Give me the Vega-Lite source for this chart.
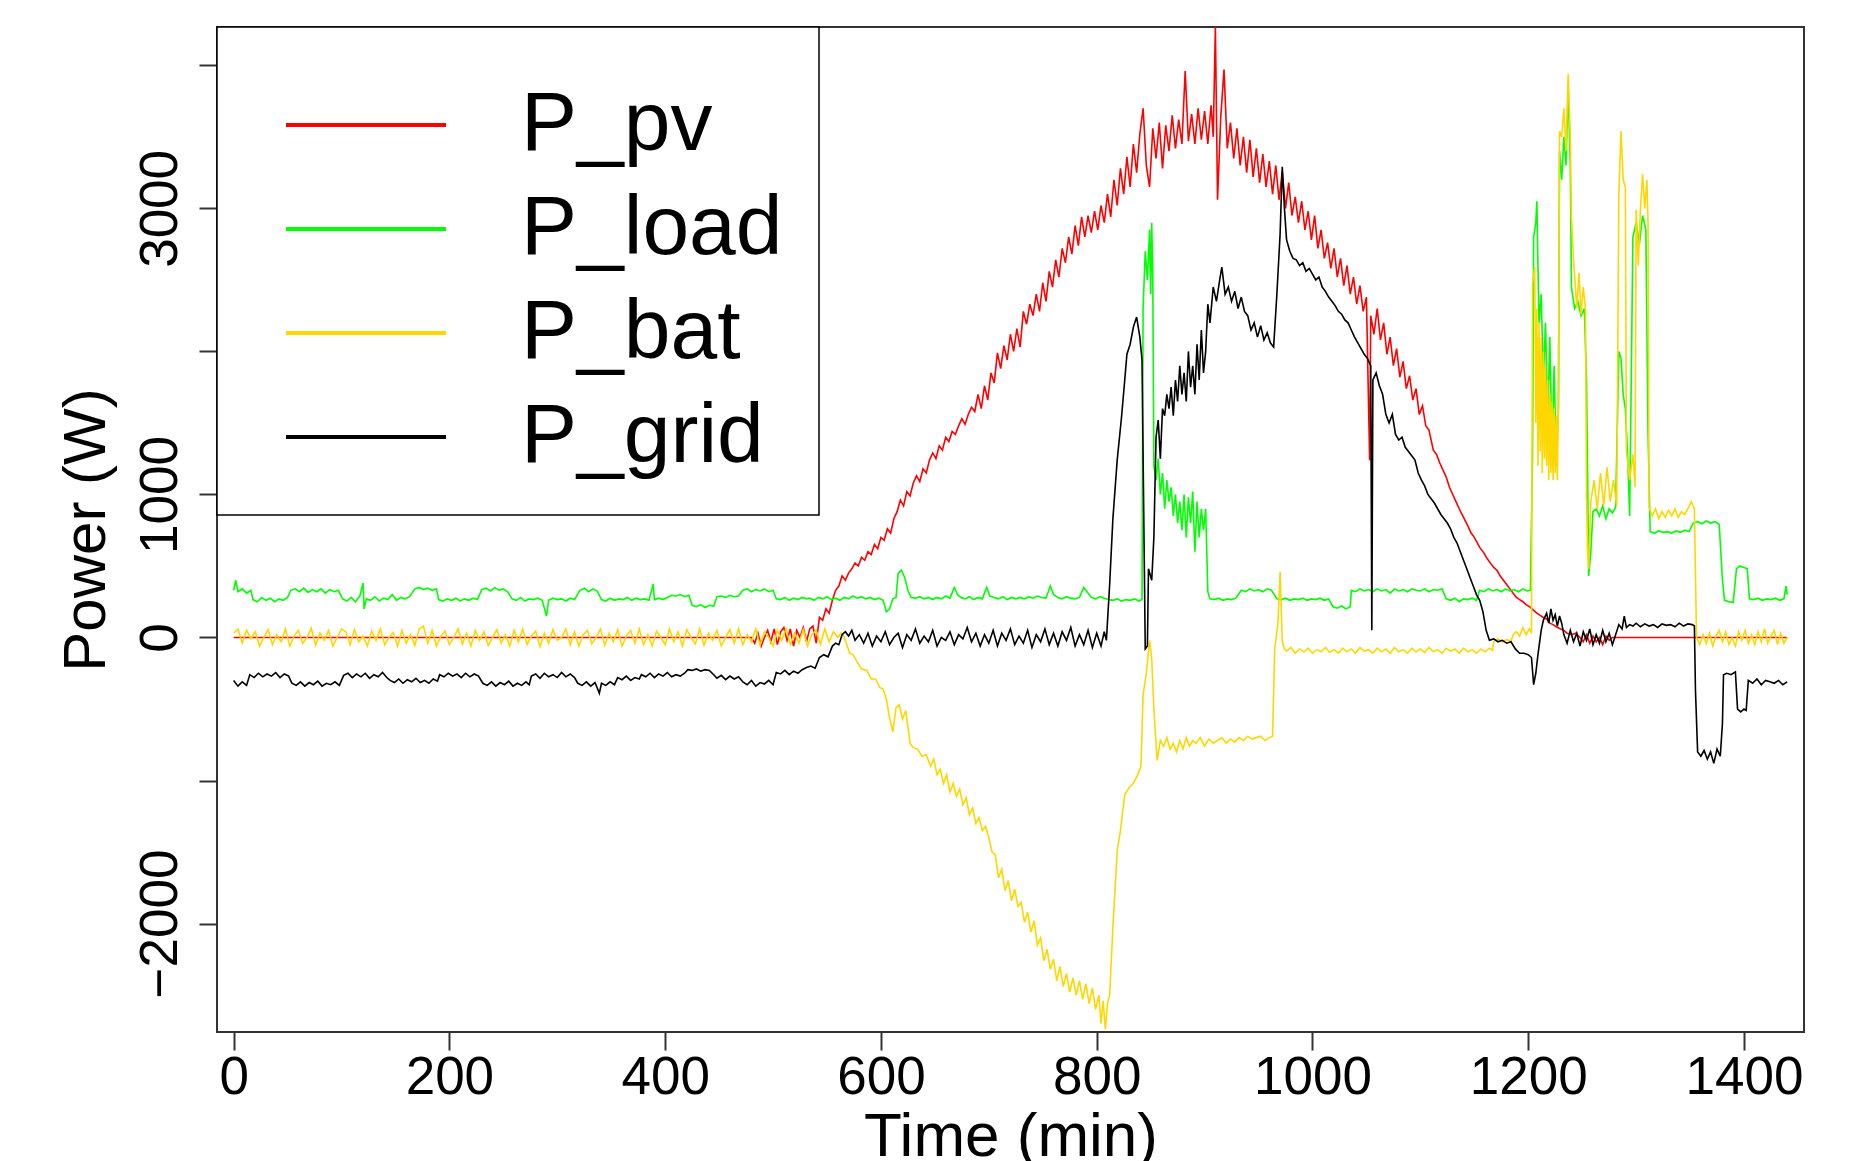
{
"$schema": "https://vega.github.io/schema/vega-lite/v6.json",
"width": 1587, "height": 1005,
"autosize": {"type": "none"},
"padding": {"left": 217, "top": 27, "right": 47, "bottom": 129},
"background": "white",
"config": {
  "view": {"stroke": "#333333", "strokeWidth": 2},
  "font": "Liberation Sans",
  "axis": {"domain": false, "grid": false, "tickColor": "#333333", "tickWidth": 2, "tickSize": 18, "labelColor": "#000000", "titleColor": "#000000", "labelFont": "Liberation Sans", "titleFont": "Liberation Sans", "titleFontWeight": "normal", "labelFlush": false}
},
"datasets": {
"pv": [{"t":0,"v":0},{"t":480,"v":0},{"t":483,"v":-40},{"t":486,"v":30},{"t":489,"v":-60},{"t":492,"v":0},{"t":495,"v":50},{"t":498,"v":-30},{"t":501,"v":60},{"t":504,"v":-50},{"t":507,"v":40},{"t":510,"v":70},{"t":513,"v":-20},{"t":516,"v":60},{"t":519,"v":-60},{"t":522,"v":50},{"t":525,"v":0},{"t":528,"v":70},{"t":531,"v":-30},{"t":534,"v":60},{"t":537,"v":80},{"t":540,"v":-40},{"t":543,"v":140},{"t":546,"v":120},{"t":549,"v":200},{"t":552,"v":170},{"t":555,"v":260},{"t":558,"v":330},{"t":561,"v":360},{"t":564,"v":430},{"t":567,"v":400},{"t":570,"v":450},{"t":573,"v":480},{"t":576,"v":520},{"t":579,"v":500},{"t":582,"v":560},{"t":585,"v":540},{"t":588,"v":600},{"t":591,"v":580},{"t":594,"v":650},{"t":597,"v":620},{"t":600,"v":700},{"t":603,"v":680},{"t":606,"v":760},{"t":609,"v":730},{"t":612,"v":830},{"t":615,"v":880},{"t":618,"v":960},{"t":621,"v":920},{"t":624,"v":1020},{"t":627,"v":990},{"t":630,"v":1080},{"t":633,"v":1130},{"t":636,"v":1090},{"t":639,"v":1180},{"t":642,"v":1150},{"t":645,"v":1240},{"t":648,"v":1290},{"t":651,"v":1250},{"t":654,"v":1340},{"t":657,"v":1310},{"t":660,"v":1400},{"t":663,"v":1370},{"t":666,"v":1440},{"t":669,"v":1420},{"t":672,"v":1480},{"t":675,"v":1530},{"t":678,"v":1490},{"t":681,"v":1560},{"t":684,"v":1610},{"t":687,"v":1580},{"t":690,"v":1700},{"t":693,"v":1600},{"t":696,"v":1760},{"t":699,"v":1660},{"t":702,"v":1850},{"t":705,"v":1780},{"t":708,"v":1990},{"t":711,"v":1880},{"t":714,"v":2040},{"t":717,"v":1940},{"t":720,"v":2120},{"t":723,"v":2000},{"t":726,"v":2160},{"t":729,"v":2030},{"t":732,"v":2280},{"t":735,"v":2190},{"t":738,"v":2330},{"t":741,"v":2250},{"t":744,"v":2400},{"t":747,"v":2280},{"t":750,"v":2480},{"t":753,"v":2350},{"t":756,"v":2560},{"t":759,"v":2450},{"t":762,"v":2640},{"t":765,"v":2520},{"t":768,"v":2720},{"t":771,"v":2620},{"t":774,"v":2800},{"t":777,"v":2680},{"t":780,"v":2880},{"t":783,"v":2740},{"t":786,"v":2940},{"t":789,"v":2800},{"t":792,"v":2950},{"t":795,"v":2830},{"t":798,"v":2980},{"t":801,"v":2850},{"t":804,"v":3020},{"t":807,"v":2900},{"t":810,"v":3100},{"t":813,"v":2940},{"t":816,"v":3200},{"t":819,"v":3020},{"t":822,"v":3280},{"t":825,"v":3100},{"t":828,"v":3360},{"t":831,"v":3150},{"t":834,"v":3450},{"t":837,"v":3250},{"t":840,"v":3520},{"t":843,"v":3700},{"t":846,"v":3300},{"t":849,"v":3150},{"t":852,"v":3560},{"t":855,"v":3350},{"t":858,"v":3600},{"t":861,"v":3280},{"t":864,"v":3580},{"t":867,"v":3400},{"t":870,"v":3650},{"t":873,"v":3420},{"t":876,"v":3620},{"t":879,"v":3450},{"t":882,"v":3960},{"t":885,"v":3470},{"t":888,"v":3660},{"t":891,"v":3450},{"t":894,"v":3700},{"t":897,"v":3480},{"t":900,"v":3680},{"t":903,"v":3450},{"t":906,"v":3720},{"t":908,"v":3500},{"t":910,"v":4270},{"t":912,"v":3060},{"t":915,"v":3640},{"t":918,"v":3970},{"t":921,"v":3420},{"t":924,"v":3600},{"t":927,"v":3350},{"t":930,"v":3560},{"t":933,"v":3300},{"t":936,"v":3500},{"t":939,"v":3250},{"t":942,"v":3480},{"t":945,"v":3220},{"t":948,"v":3420},{"t":951,"v":3180},{"t":954,"v":3380},{"t":957,"v":3150},{"t":960,"v":3330},{"t":963,"v":3100},{"t":966,"v":3300},{"t":969,"v":3060},{"t":972,"v":3260},{"t":975,"v":3000},{"t":978,"v":3180},{"t":981,"v":2950},{"t":984,"v":3080},{"t":987,"v":2900},{"t":990,"v":3050},{"t":993,"v":2850},{"t":996,"v":2980},{"t":999,"v":2780},{"t":1002,"v":2950},{"t":1005,"v":2720},{"t":1008,"v":2850},{"t":1011,"v":2650},{"t":1014,"v":2760},{"t":1017,"v":2580},{"t":1020,"v":2720},{"t":1023,"v":2520},{"t":1026,"v":2650},{"t":1029,"v":2460},{"t":1032,"v":2600},{"t":1035,"v":2400},{"t":1038,"v":2520},{"t":1041,"v":2330},{"t":1044,"v":2460},{"t":1047,"v":2280},{"t":1050,"v":2380},{"t":1053,"v":1240},{"t":1054,"v":2250},{"t":1057,"v":2120},{"t":1060,"v":2300},{"t":1063,"v":2080},{"t":1066,"v":2200},{"t":1069,"v":1980},{"t":1072,"v":2100},{"t":1075,"v":1900},{"t":1078,"v":2020},{"t":1081,"v":1820},{"t":1084,"v":1930},{"t":1087,"v":1740},{"t":1090,"v":1830},{"t":1093,"v":1660},{"t":1096,"v":1740},{"t":1099,"v":1560},{"t":1102,"v":1620},{"t":1105,"v":1480},{"t":1108,"v":1450},{"t":1112,"v":1310},{"t":1115,"v":1280},{"t":1118,"v":1220},{"t":1121,"v":1170},{"t":1124,"v":1120},{"t":1127,"v":1050},{"t":1130,"v":1000},{"t":1133,"v":950},{"t":1136,"v":900},{"t":1140,"v":840},{"t":1144,"v":780},{"t":1147,"v":730},{"t":1150,"v":700},{"t":1155,"v":630},{"t":1159,"v":590},{"t":1162,"v":550},{"t":1165,"v":520},{"t":1168,"v":490},{"t":1171,"v":470},{"t":1174,"v":430},{"t":1177,"v":400},{"t":1180,"v":370},{"t":1183,"v":340},{"t":1186,"v":310},{"t":1189,"v":280},{"t":1192,"v":265},{"t":1195,"v":250},{"t":1198,"v":230},{"t":1202,"v":210},{"t":1205,"v":190},{"t":1208,"v":170},{"t":1211,"v":155},{"t":1214,"v":140},{"t":1217,"v":130},{"t":1220,"v":100},{"t":1223,"v":90},{"t":1226,"v":75},{"t":1230,"v":60},{"t":1233,"v":50},{"t":1236,"v":30},{"t":1240,"v":20},{"t":1244,"v":30},{"t":1248,"v":0},{"t":1251,"v":-30},{"t":1254,"v":20},{"t":1257,"v":-40},{"t":1260,"v":10},{"t":1263,"v":-30},{"t":1266,"v":0},{"t":1269,"v":-50},{"t":1272,"v":10},{"t":1275,"v":-20},{"t":1278,"v":0},{"t":1440,"v":0}],
"load": [{"t":0,"v":330},{"t":2,"v":400},{"t":4,"v":320},{"t":8,"v":340},{"t":12,"v":310},{"t":16,"v":330},{"t":18,"v":265},{"t":22,"v":250},{"t":26,"v":280},{"t":30,"v":260},{"t":34,"v":275},{"t":38,"v":250},{"t":42,"v":270},{"t":46,"v":260},{"t":50,"v":280},{"t":53,"v":330},{"t":57,"v":340},{"t":61,"v":320},{"t":65,"v":345},{"t":69,"v":315},{"t":73,"v":335},{"t":77,"v":320},{"t":81,"v":340},{"t":85,"v":310},{"t":89,"v":335},{"t":93,"v":320},{"t":97,"v":330},{"t":101,"v":270},{"t":105,"v":255},{"t":109,"v":280},{"t":113,"v":250},{"t":117,"v":290},{"t":120,"v":380},{"t":121,"v":200},{"t":123,"v":270},{"t":127,"v":260},{"t":131,"v":285},{"t":135,"v":255},{"t":139,"v":275},{"t":143,"v":265},{"t":147,"v":300},{"t":151,"v":260},{"t":155,"v":280},{"t":159,"v":270},{"t":163,"v":285},{"t":168,"v":340},{"t":172,"v":350},{"t":176,"v":335},{"t":180,"v":345},{"t":184,"v":330},{"t":188,"v":340},{"t":190,"v":265},{"t":194,"v":255},{"t":198,"v":270},{"t":202,"v":260},{"t":206,"v":275},{"t":210,"v":255},{"t":214,"v":270},{"t":218,"v":260},{"t":222,"v":275},{"t":226,"v":265},{"t":230,"v":335},{"t":234,"v":345},{"t":238,"v":325},{"t":242,"v":350},{"t":246,"v":330},{"t":250,"v":340},{"t":254,"v":320},{"t":258,"v":270},{"t":262,"v":260},{"t":266,"v":280},{"t":270,"v":255},{"t":274,"v":270},{"t":278,"v":265},{"t":282,"v":275},{"t":286,"v":260},{"t":290,"v":150},{"t":292,"v":260},{"t":296,"v":275},{"t":300,"v":265},{"t":304,"v":270},{"t":308,"v":255},{"t":312,"v":275},{"t":316,"v":265},{"t":321,"v":330},{"t":325,"v":345},{"t":329,"v":320},{"t":333,"v":340},{"t":337,"v":325},{"t":341,"v":265},{"t":345,"v":255},{"t":349,"v":275},{"t":353,"v":260},{"t":357,"v":270},{"t":361,"v":265},{"t":365,"v":280},{"t":369,"v":260},{"t":373,"v":275},{"t":377,"v":265},{"t":381,"v":270},{"t":385,"v":260},{"t":389,"v":375},{"t":390,"v":265},{"t":394,"v":275},{"t":398,"v":265},{"t":402,"v":280},{"t":406,"v":295},{"t":410,"v":290},{"t":414,"v":300},{"t":418,"v":285},{"t":422,"v":295},{"t":425,"v":225},{"t":429,"v":215},{"t":433,"v":230},{"t":437,"v":210},{"t":441,"v":225},{"t":445,"v":220},{"t":448,"v":285},{"t":452,"v":290},{"t":456,"v":280},{"t":460,"v":295},{"t":464,"v":285},{"t":468,"v":290},{"t":472,"v":330},{"t":476,"v":340},{"t":480,"v":320},{"t":484,"v":335},{"t":488,"v":325},{"t":492,"v":340},{"t":496,"v":320},{"t":500,"v":330},{"t":503,"v":270},{"t":507,"v":265},{"t":511,"v":280},{"t":515,"v":260},{"t":519,"v":275},{"t":523,"v":265},{"t":527,"v":280},{"t":531,"v":270},{"t":534,"v":275},{"t":538,"v":260},{"t":542,"v":280},{"t":546,"v":270},{"t":550,"v":285},{"t":554,"v":265},{"t":558,"v":275},{"t":562,"v":260},{"t":566,"v":280},{"t":570,"v":270},{"t":574,"v":290},{"t":578,"v":275},{"t":582,"v":285},{"t":586,"v":270},{"t":590,"v":280},{"t":594,"v":265},{"t":598,"v":275},{"t":602,"v":260},{"t":605,"v":180},{"t":608,"v":200},{"t":611,"v":270},{"t":614,"v":280},{"t":616,"v":450},{"t":619,"v":470},{"t":622,"v":420},{"t":625,"v":330},{"t":628,"v":280},{"t":632,"v":275},{"t":636,"v":285},{"t":640,"v":270},{"t":644,"v":280},{"t":648,"v":265},{"t":652,"v":280},{"t":656,"v":270},{"t":660,"v":290},{"t":664,"v":275},{"t":668,"v":350},{"t":671,"v":300},{"t":674,"v":280},{"t":678,"v":270},{"t":682,"v":285},{"t":686,"v":265},{"t":690,"v":280},{"t":694,"v":270},{"t":698,"v":350},{"t":701,"v":290},{"t":705,"v":280},{"t":709,"v":270},{"t":713,"v":285},{"t":717,"v":265},{"t":721,"v":280},{"t":725,"v":270},{"t":729,"v":280},{"t":733,"v":270},{"t":737,"v":285},{"t":741,"v":275},{"t":745,"v":290},{"t":749,"v":280},{"t":753,"v":275},{"t":757,"v":360},{"t":760,"v":300},{"t":764,"v":280},{"t":768,"v":270},{"t":772,"v":285},{"t":776,"v":275},{"t":780,"v":270},{"t":784,"v":280},{"t":788,"v":350},{"t":791,"v":320},{"t":795,"v":280},{"t":799,"v":270},{"t":803,"v":285},{"t":807,"v":275},{"t":811,"v":265},{"t":815,"v":260},{"t":819,"v":270},{"t":823,"v":255},{"t":827,"v":265},{"t":831,"v":260},{"t":835,"v":270},{"t":839,"v":255},{"t":842,"v":265},{"t":843,"v":2300},{"t":845,"v":2700},{"t":847,"v":2500},{"t":849,"v":2850},{"t":850,"v":2400},{"t":851,"v":2900},{"t":852,"v":2500},{"t":853,"v":1200},{"t":855,"v":1100},{"t":857,"v":1250},{"t":859,"v":1000},{"t":861,"v":1150},{"t":863,"v":900},{"t":865,"v":1100},{"t":867,"v":950},{"t":869,"v":1050},{"t":871,"v":850},{"t":873,"v":1000},{"t":875,"v":800},{"t":877,"v":950},{"t":879,"v":750},{"t":881,"v":1000},{"t":883,"v":700},{"t":885,"v":980},{"t":887,"v":800},{"t":889,"v":1020},{"t":891,"v":600},{"t":893,"v":950},{"t":895,"v":700},{"t":897,"v":900},{"t":899,"v":750},{"t":901,"v":900},{"t":903,"v":320},{"t":905,"v":270},{"t":909,"v":265},{"t":913,"v":275},{"t":917,"v":260},{"t":921,"v":270},{"t":925,"v":265},{"t":929,"v":275},{"t":934,"v":330},{"t":938,"v":320},{"t":942,"v":340},{"t":946,"v":325},{"t":950,"v":335},{"t":954,"v":320},{"t":958,"v":340},{"t":962,"v":330},{"t":967,"v":270},{"t":971,"v":265},{"t":975,"v":275},{"t":979,"v":260},{"t":983,"v":270},{"t":987,"v":265},{"t":991,"v":275},{"t":995,"v":260},{"t":999,"v":270},{"t":1003,"v":265},{"t":1007,"v":275},{"t":1011,"v":260},{"t":1015,"v":270},{"t":1019,"v":215},{"t":1023,"v":205},{"t":1027,"v":220},{"t":1031,"v":200},{"t":1035,"v":215},{"t":1036,"v":330},{"t":1040,"v":320},{"t":1044,"v":340},{"t":1048,"v":325},{"t":1052,"v":335},{"t":1056,"v":320},{"t":1060,"v":340},{"t":1064,"v":325},{"t":1068,"v":335},{"t":1072,"v":310},{"t":1076,"v":340},{"t":1080,"v":325},{"t":1084,"v":335},{"t":1088,"v":320},{"t":1092,"v":340},{"t":1096,"v":330},{"t":1100,"v":325},{"t":1104,"v":340},{"t":1108,"v":320},{"t":1112,"v":335},{"t":1116,"v":330},{"t":1120,"v":340},{"t":1124,"v":270},{"t":1128,"v":260},{"t":1132,"v":275},{"t":1136,"v":250},{"t":1140,"v":270},{"t":1144,"v":265},{"t":1148,"v":275},{"t":1152,"v":260},{"t":1155,"v":330},{"t":1159,"v":320},{"t":1163,"v":340},{"t":1167,"v":325},{"t":1171,"v":335},{"t":1175,"v":320},{"t":1179,"v":340},{"t":1183,"v":325},{"t":1187,"v":335},{"t":1191,"v":320},{"t":1195,"v":340},{"t":1199,"v":325},{"t":1202,"v":330},{"t":1204,"v":1300},{"t":1205,"v":2800},{"t":1207,"v":2900},{"t":1208,"v":3050},{"t":1209,"v":2600},{"t":1210,"v":2200},{"t":1212,"v":2400},{"t":1214,"v":1800},{"t":1216,"v":2200},{"t":1218,"v":1500},{"t":1220,"v":2100},{"t":1222,"v":1300},{"t":1224,"v":1900},{"t":1226,"v":1200},{"t":1228,"v":1600},{"t":1229,"v":3400},{"t":1231,"v":3200},{"t":1233,"v":3500},{"t":1235,"v":3300},{"t":1237,"v":3850},{"t":1239,"v":3300},{"t":1240,"v":2450},{"t":1243,"v":2300},{"t":1246,"v":2350},{"t":1249,"v":2250},{"t":1252,"v":2300},{"t":1254,"v":1800},{"t":1255,"v":1150},{"t":1256,"v":430},{"t":1258,"v":600},{"t":1260,"v":880},{"t":1263,"v":900},{"t":1266,"v":850},{"t":1269,"v":920},{"t":1272,"v":830},{"t":1275,"v":900},{"t":1278,"v":870},{"t":1281,"v":910},{"t":1284,"v":2000},{"t":1286,"v":1950},{"t":1288,"v":1700},{"t":1290,"v":1600},{"t":1292,"v":1300},{"t":1294,"v":850},{"t":1297,"v":2800},{"t":1300,"v":2900},{"t":1303,"v":2750},{"t":1306,"v":2950},{"t":1309,"v":2850},{"t":1311,"v":1450},{"t":1313,"v":740},{"t":1317,"v":730},{"t":1321,"v":745},{"t":1325,"v":735},{"t":1329,"v":740},{"t":1333,"v":730},{"t":1337,"v":745},{"t":1341,"v":735},{"t":1345,"v":750},{"t":1349,"v":740},{"t":1353,"v":800},{"t":1357,"v":810},{"t":1361,"v":795},{"t":1365,"v":815},{"t":1369,"v":800},{"t":1373,"v":810},{"t":1377,"v":790},{"t":1380,"v":400},{"t":1382,"v":260},{"t":1386,"v":250},{"t":1390,"v":245},{"t":1393,"v":480},{"t":1396,"v":500},{"t":1400,"v":490},{"t":1403,"v":480},{"t":1405,"v":270},{"t":1409,"v":265},{"t":1413,"v":275},{"t":1417,"v":260},{"t":1421,"v":270},{"t":1425,"v":265},{"t":1429,"v":275},{"t":1433,"v":260},{"t":1437,"v":270},{"t":1439,"v":360},{"t":1440,"v":300}],
"bat": [{"t":0,"v":30},{"t":4,"v":60},{"t":8,"v":-40},{"t":12,"v":50},{"t":16,"v":-10},{"t":20,"v":40},{"t":24,"v":-60},{"t":28,"v":0},{"t":32,"v":55},{"t":36,"v":-50},{"t":40,"v":20},{"t":44,"v":-30},{"t":48,"v":60},{"t":52,"v":-60},{"t":56,"v":10},{"t":60,"v":50},{"t":64,"v":-40},{"t":68,"v":0},{"t":72,"v":65},{"t":76,"v":-55},{"t":80,"v":30},{"t":84,"v":-20},{"t":88,"v":50},{"t":92,"v":-60},{"t":96,"v":0},{"t":100,"v":60},{"t":104,"v":40},{"t":108,"v":-50},{"t":112,"v":55},{"t":116,"v":-30},{"t":120,"v":10},{"t":124,"v":-60},{"t":128,"v":45},{"t":132,"v":-20},{"t":136,"v":60},{"t":140,"v":-50},{"t":144,"v":0},{"t":148,"v":35},{"t":152,"v":-60},{"t":156,"v":50},{"t":160,"v":-40},{"t":164,"v":20},{"t":168,"v":-55},{"t":172,"v":60},{"t":176,"v":80},{"t":180,"v":-40},{"t":184,"v":50},{"t":188,"v":-60},{"t":192,"v":10},{"t":196,"v":45},{"t":200,"v":-50},{"t":204,"v":0},{"t":208,"v":60},{"t":212,"v":-45},{"t":216,"v":30},{"t":220,"v":-60},{"t":224,"v":50},{"t":228,"v":-20},{"t":232,"v":40},{"t":236,"v":-55},{"t":240,"v":0},{"t":244,"v":55},{"t":248,"v":-40},{"t":252,"v":20},{"t":256,"v":-60},{"t":260,"v":50},{"t":264,"v":-30},{"t":268,"v":60},{"t":272,"v":-50},{"t":276,"v":10},{"t":280,"v":45},{"t":284,"v":-65},{"t":288,"v":30},{"t":292,"v":-40},{"t":296,"v":55},{"t":300,"v":-20},{"t":304,"v":0},{"t":308,"v":60},{"t":312,"v":-50},{"t":316,"v":40},{"t":320,"v":-60},{"t":324,"v":20},{"t":328,"v":50},{"t":332,"v":-45},{"t":336,"v":0},{"t":340,"v":60},{"t":344,"v":-55},{"t":348,"v":30},{"t":352,"v":-30},{"t":356,"v":55},{"t":360,"v":-60},{"t":364,"v":10},{"t":368,"v":50},{"t":372,"v":-40},{"t":376,"v":60},{"t":380,"v":-50},{"t":384,"v":20},{"t":388,"v":-60},{"t":392,"v":45},{"t":396,"v":0},{"t":400,"v":-50},{"t":404,"v":60},{"t":408,"v":-30},{"t":412,"v":40},{"t":416,"v":-60},{"t":420,"v":55},{"t":424,"v":0},{"t":428,"v":-45},{"t":432,"v":60},{"t":436,"v":-55},{"t":440,"v":30},{"t":444,"v":-20},{"t":448,"v":50},{"t":452,"v":-60},{"t":456,"v":0},{"t":460,"v":55},{"t":464,"v":-40},{"t":468,"v":60},{"t":472,"v":-50},{"t":476,"v":20},{"t":480,"v":-30},{"t":484,"v":60},{"t":488,"v":-55},{"t":492,"v":40},{"t":496,"v":0},{"t":500,"v":-60},{"t":504,"v":50},{"t":508,"v":-20},{"t":512,"v":60},{"t":516,"v":-50},{"t":520,"v":30},{"t":524,"v":-40},{"t":528,"v":55},{"t":532,"v":-60},{"t":536,"v":20},{"t":540,"v":50},{"t":544,"v":-45},{"t":548,"v":60},{"t":552,"v":-30},{"t":556,"v":40},{"t":560,"v":0},{"t":563,"v":30},{"t":565,"v":20},{"t":568,"v":-40},{"t":571,"v":-110},{"t":574,"v":-120},{"t":578,"v":-170},{"t":582,"v":-220},{"t":587,"v":-230},{"t":591,"v":-290},{"t":595,"v":-290},{"t":599,"v":-350},{"t":602,"v":-360},{"t":605,"v":-430},{"t":608,"v":-560},{"t":611,"v":-660},{"t":614,"v":-490},{"t":617,"v":-470},{"t":620,"v":-570},{"t":623,"v":-510},{"t":627,"v":-740},{"t":630,"v":-770},{"t":634,"v":-780},{"t":638,"v":-830},{"t":642,"v":-820},{"t":646,"v":-900},{"t":649,"v":-850},{"t":652,"v":-960},{"t":655,"v":-920},{"t":658,"v":-1020},{"t":661,"v":-960},{"t":664,"v":-1080},{"t":667,"v":-1020},{"t":670,"v":-1110},{"t":673,"v":-1060},{"t":676,"v":-1170},{"t":679,"v":-1120},{"t":682,"v":-1240},{"t":685,"v":-1190},{"t":688,"v":-1300},{"t":691,"v":-1260},{"t":694,"v":-1350},{"t":697,"v":-1320},{"t":700,"v":-1400},{"t":703,"v":-1500},{"t":706,"v":-1520},{"t":709,"v":-1680},{"t":712,"v":-1620},{"t":715,"v":-1770},{"t":718,"v":-1700},{"t":721,"v":-1840},{"t":724,"v":-1760},{"t":727,"v":-1880},{"t":730,"v":-1850},{"t":733,"v":-1990},{"t":736,"v":-1920},{"t":739,"v":-2060},{"t":742,"v":-1980},{"t":745,"v":-2150},{"t":748,"v":-2100},{"t":751,"v":-2260},{"t":754,"v":-2180},{"t":757,"v":-2320},{"t":760,"v":-2250},{"t":763,"v":-2400},{"t":766,"v":-2300},{"t":769,"v":-2440},{"t":772,"v":-2350},{"t":775,"v":-2480},{"t":778,"v":-2380},{"t":781,"v":-2500},{"t":784,"v":-2400},{"t":787,"v":-2530},{"t":790,"v":-2420},{"t":793,"v":-2560},{"t":796,"v":-2450},{"t":799,"v":-2600},{"t":802,"v":-2500},{"t":804,"v":-2700},{"t":806,"v":-2540},{"t":808,"v":-2740},{"t":810,"v":-2560},{"t":812,"v":-2500},{"t":815,"v":-2030},{"t":819,"v":-1490},{"t":822,"v":-1350},{"t":826,"v":-1100},{"t":830,"v":-1050},{"t":834,"v":-1020},{"t":838,"v":-960},{"t":841,"v":-900},{"t":843,"v":-400},{"t":846,"v":-250},{"t":849,"v":-20},{"t":851,"v":-150},{"t":853,"v":-500},{"t":856,"v":-860},{"t":859,"v":-720},{"t":862,"v":-760},{"t":865,"v":-700},{"t":868,"v":-780},{"t":871,"v":-740},{"t":874,"v":-800},{"t":877,"v":-720},{"t":880,"v":-780},{"t":883,"v":-700},{"t":886,"v":-760},{"t":889,"v":-720},{"t":892,"v":-740},{"t":896,"v":-700},{"t":900,"v":-760},{"t":904,"v":-710},{"t":908,"v":-740},{"t":912,"v":-720},{"t":916,"v":-700},{"t":920,"v":-740},{"t":924,"v":-710},{"t":928,"v":-730},{"t":932,"v":-700},{"t":936,"v":-720},{"t":940,"v":-690},{"t":944,"v":-710},{"t":948,"v":-700},{"t":952,"v":-690},{"t":956,"v":-720},{"t":960,"v":-700},{"t":963,"v":-690},{"t":965,"v":-80},{"t":968,"v":100},{"t":970,"v":460},{"t":972,"v":-30},{"t":974,"v":-80},{"t":976,"v":-95},{"t":980,"v":-70},{"t":984,"v":-110},{"t":988,"v":-80},{"t":992,"v":-100},{"t":996,"v":-75},{"t":1000,"v":-110},{"t":1004,"v":-85},{"t":1008,"v":-100},{"t":1012,"v":-70},{"t":1016,"v":-105},{"t":1020,"v":-85},{"t":1024,"v":-110},{"t":1028,"v":-75},{"t":1032,"v":-100},{"t":1036,"v":-80},{"t":1040,"v":-110},{"t":1044,"v":-70},{"t":1048,"v":-95},{"t":1052,"v":-85},{"t":1056,"v":-110},{"t":1060,"v":-75},{"t":1064,"v":-100},{"t":1068,"v":-80},{"t":1072,"v":-110},{"t":1076,"v":-70},{"t":1080,"v":-100},{"t":1084,"v":-85},{"t":1088,"v":-110},{"t":1092,"v":-75},{"t":1096,"v":-100},{"t":1100,"v":-80},{"t":1104,"v":-105},{"t":1108,"v":-70},{"t":1112,"v":-100},{"t":1116,"v":-85},{"t":1120,"v":-110},{"t":1124,"v":-75},{"t":1128,"v":-95},{"t":1132,"v":-80},{"t":1136,"v":-110},{"t":1140,"v":-75},{"t":1144,"v":-100},{"t":1148,"v":-85},{"t":1152,"v":-110},{"t":1156,"v":-80},{"t":1160,"v":-100},{"t":1164,"v":-75},{"t":1167,"v":-90},{"t":1168,"v":-30},{"t":1172,"v":-10},{"t":1176,"v":-30},{"t":1180,"v":-15},{"t":1184,"v":-25},{"t":1186,"v":20},{"t":1189,"v":40},{"t":1192,"v":10},{"t":1195,"v":70},{"t":1198,"v":20},{"t":1201,"v":60},{"t":1203,"v":30},{"t":1204,"v":2470},{"t":1206,"v":2590},{"t":1207,"v":1500},{"t":1208,"v":2300},{"t":1209,"v":1200},{"t":1210,"v":2200},{"t":1211,"v":1300},{"t":1212,"v":2100},{"t":1213,"v":1150},{"t":1214,"v":2000},{"t":1215,"v":1250},{"t":1216,"v":1900},{"t":1217,"v":1200},{"t":1218,"v":1800},{"t":1219,"v":1100},{"t":1220,"v":1700},{"t":1221,"v":1150},{"t":1222,"v":1650},{"t":1223,"v":1100},{"t":1224,"v":1600},{"t":1225,"v":1150},{"t":1226,"v":1550},{"t":1227,"v":1100},{"t":1228,"v":1700},{"t":1229,"v":3540},{"t":1231,"v":3500},{"t":1233,"v":3700},{"t":1235,"v":3400},{"t":1237,"v":3940},{"t":1239,"v":3500},{"t":1240,"v":2940},{"t":1242,"v":2640},{"t":1245,"v":2300},{"t":1247,"v":2550},{"t":1249,"v":2260},{"t":1251,"v":2450},{"t":1253,"v":2300},{"t":1254,"v":1000},{"t":1255,"v":600},{"t":1256,"v":480},{"t":1258,"v":950},{"t":1261,"v":1100},{"t":1264,"v":900},{"t":1267,"v":1150},{"t":1270,"v":920},{"t":1273,"v":1190},{"t":1276,"v":950},{"t":1279,"v":1100},{"t":1282,"v":920},{"t":1284,"v":3100},{"t":1286,"v":3540},{"t":1288,"v":3200},{"t":1290,"v":3150},{"t":1291,"v":1300},{"t":1294,"v":1100},{"t":1297,"v":1280},{"t":1299,"v":1050},{"t":1300,"v":2990},{"t":1302,"v":2600},{"t":1304,"v":3000},{"t":1306,"v":3240},{"t":1308,"v":3000},{"t":1310,"v":3200},{"t":1311,"v":2900},{"t":1312,"v":910},{"t":1315,"v":850},{"t":1318,"v":900},{"t":1321,"v":830},{"t":1324,"v":880},{"t":1327,"v":840},{"t":1330,"v":890},{"t":1333,"v":850},{"t":1336,"v":900},{"t":1339,"v":840},{"t":1342,"v":880},{"t":1345,"v":860},{"t":1348,"v":900},{"t":1351,"v":950},{"t":1354,"v":900},{"t":1356,"v":0},{"t":1359,"v":-50},{"t":1362,"v":20},{"t":1365,"v":-40},{"t":1368,"v":30},{"t":1371,"v":-60},{"t":1374,"v":10},{"t":1377,"v":50},{"t":1380,"v":-30},{"t":1383,"v":40},{"t":1386,"v":-50},{"t":1389,"v":0},{"t":1392,"v":-60},{"t":1395,"v":40},{"t":1398,"v":-20},{"t":1401,"v":50},{"t":1404,"v":-40},{"t":1407,"v":20},{"t":1410,"v":-50},{"t":1413,"v":40},{"t":1416,"v":-30},{"t":1419,"v":60},{"t":1422,"v":-40},{"t":1425,"v":10},{"t":1428,"v":50},{"t":1431,"v":-50},{"t":1434,"v":30},{"t":1437,"v":-40},{"t":1440,"v":0}],
"grid": [{"t":0,"v":-300},{"t":4,"v":-340},{"t":8,"v":-310},{"t":12,"v":-335},{"t":15,"v":-260},{"t":19,"v":-280},{"t":23,"v":-250},{"t":27,"v":-275},{"t":31,"v":-255},{"t":35,"v":-270},{"t":39,"v":-245},{"t":43,"v":-280},{"t":47,"v":-255},{"t":51,"v":-270},{"t":54,"v":-320},{"t":58,"v":-335},{"t":62,"v":-310},{"t":66,"v":-340},{"t":70,"v":-315},{"t":74,"v":-330},{"t":78,"v":-305},{"t":82,"v":-340},{"t":86,"v":-320},{"t":90,"v":-330},{"t":94,"v":-310},{"t":98,"v":-335},{"t":102,"v":-265},{"t":106,"v":-250},{"t":110,"v":-280},{"t":114,"v":-255},{"t":118,"v":-275},{"t":122,"v":-250},{"t":126,"v":-285},{"t":130,"v":-260},{"t":134,"v":-275},{"t":138,"v":-245},{"t":142,"v":-280},{"t":145,"v":-300},{"t":149,"v":-315},{"t":153,"v":-290},{"t":157,"v":-320},{"t":161,"v":-295},{"t":165,"v":-310},{"t":169,"v":-285},{"t":173,"v":-315},{"t":177,"v":-300},{"t":181,"v":-320},{"t":185,"v":-290},{"t":189,"v":-305},{"t":191,"v":-260},{"t":195,"v":-275},{"t":199,"v":-250},{"t":203,"v":-270},{"t":207,"v":-255},{"t":211,"v":-280},{"t":215,"v":-250},{"t":219,"v":-275},{"t":223,"v":-255},{"t":227,"v":-270},{"t":231,"v":-320},{"t":235,"v":-335},{"t":239,"v":-310},{"t":243,"v":-340},{"t":247,"v":-315},{"t":251,"v":-330},{"t":255,"v":-305},{"t":259,"v":-340},{"t":263,"v":-320},{"t":267,"v":-335},{"t":271,"v":-310},{"t":274,"v":-330},{"t":276,"v":-270},{"t":280,"v":-255},{"t":284,"v":-285},{"t":288,"v":-250},{"t":292,"v":-275},{"t":296,"v":-260},{"t":300,"v":-280},{"t":304,"v":-245},{"t":308,"v":-275},{"t":312,"v":-255},{"t":316,"v":-280},{"t":319,"v":-320},{"t":323,"v":-335},{"t":327,"v":-310},{"t":331,"v":-340},{"t":335,"v":-315},{"t":339,"v":-390},{"t":341,"v":-320},{"t":345,"v":-335},{"t":349,"v":-310},{"t":353,"v":-330},{"t":356,"v":-280},{"t":360,"v":-295},{"t":364,"v":-270},{"t":368,"v":-300},{"t":372,"v":-280},{"t":376,"v":-290},{"t":378,"v":-260},{"t":382,"v":-275},{"t":386,"v":-250},{"t":390,"v":-280},{"t":394,"v":-255},{"t":398,"v":-270},{"t":402,"v":-245},{"t":406,"v":-275},{"t":410,"v":-260},{"t":414,"v":-270},{"t":418,"v":-250},{"t":421,"v":-225},{"t":425,"v":-230},{"t":429,"v":-220},{"t":433,"v":-235},{"t":437,"v":-225},{"t":441,"v":-230},{"t":445,"v":-260},{"t":448,"v":-285},{"t":452,"v":-265},{"t":456,"v":-295},{"t":460,"v":-270},{"t":464,"v":-290},{"t":468,"v":-275},{"t":472,"v":-310},{"t":476,"v":-330},{"t":480,"v":-300},{"t":484,"v":-340},{"t":488,"v":-315},{"t":492,"v":-325},{"t":496,"v":-300},{"t":500,"v":-330},{"t":503,"v":-245},{"t":507,"v":-255},{"t":511,"v":-230},{"t":515,"v":-260},{"t":519,"v":-235},{"t":523,"v":-250},{"t":527,"v":-225},{"t":531,"v":-210},{"t":535,"v":-200},{"t":539,"v":-215},{"t":543,"v":-140},{"t":547,"v":-120},{"t":551,"v":-135},{"t":555,"v":-60},{"t":558,"v":-40},{"t":561,"v":-50},{"t":564,"v":20},{"t":567,"v":40},{"t":570,"v":10},{"t":573,"v":50},{"t":576,"v":-20},{"t":580,"v":20},{"t":584,"v":-40},{"t":588,"v":30},{"t":592,"v":-60},{"t":596,"v":10},{"t":600,"v":-30},{"t":604,"v":40},{"t":608,"v":-50},{"t":612,"v":0},{"t":616,"v":30},{"t":620,"v":-70},{"t":624,"v":20},{"t":628,"v":-20},{"t":632,"v":60},{"t":636,"v":-40},{"t":640,"v":10},{"t":644,"v":-30},{"t":648,"v":50},{"t":652,"v":-60},{"t":656,"v":0},{"t":660,"v":-20},{"t":664,"v":40},{"t":668,"v":-50},{"t":672,"v":20},{"t":676,"v":-10},{"t":680,"v":70},{"t":684,"v":-30},{"t":688,"v":30},{"t":692,"v":-60},{"t":696,"v":20},{"t":700,"v":-40},{"t":704,"v":50},{"t":708,"v":-60},{"t":712,"v":30},{"t":716,"v":-20},{"t":720,"v":60},{"t":724,"v":-50},{"t":728,"v":10},{"t":732,"v":-40},{"t":736,"v":50},{"t":740,"v":-70},{"t":744,"v":20},{"t":748,"v":-30},{"t":752,"v":60},{"t":756,"v":-50},{"t":760,"v":30},{"t":764,"v":-60},{"t":768,"v":40},{"t":772,"v":-20},{"t":776,"v":70},{"t":780,"v":-60},{"t":784,"v":20},{"t":788,"v":-50},{"t":792,"v":50},{"t":796,"v":-70},{"t":800,"v":30},{"t":804,"v":-60},{"t":807,"v":40},{"t":809,"v":-20},{"t":812,"v":370},{"t":815,"v":830},{"t":819,"v":1240},{"t":823,"v":1540},{"t":826,"v":1800},{"t":828,"v":1980},{"t":831,"v":2050},{"t":834,"v":2170},{"t":837,"v":2240},{"t":840,"v":2100},{"t":842,"v":1940},{"t":844,"v":600},{"t":845,"v":-80},{"t":847,"v":-60},{"t":848,"v":480},{"t":851,"v":400},{"t":853,"v":700},{"t":855,"v":1400},{"t":857,"v":1520},{"t":859,"v":1250},{"t":861,"v":1600},{"t":863,"v":1550},{"t":865,"v":1700},{"t":867,"v":1600},{"t":869,"v":1750},{"t":871,"v":1550},{"t":873,"v":1800},{"t":875,"v":1650},{"t":877,"v":1900},{"t":879,"v":1700},{"t":881,"v":1850},{"t":883,"v":1650},{"t":885,"v":2000},{"t":887,"v":1750},{"t":889,"v":1900},{"t":891,"v":1700},{"t":893,"v":2050},{"t":895,"v":1800},{"t":897,"v":2150},{"t":899,"v":1850},{"t":901,"v":2000},{"t":903,"v":2330},{"t":905,"v":2200},{"t":908,"v":2450},{"t":911,"v":2350},{"t":914,"v":2500},{"t":916,"v":2590},{"t":919,"v":2400},{"t":922,"v":2450},{"t":925,"v":2350},{"t":928,"v":2420},{"t":931,"v":2300},{"t":934,"v":2380},{"t":937,"v":2280},{"t":940,"v":2250},{"t":943,"v":2150},{"t":946,"v":2200},{"t":949,"v":2100},{"t":952,"v":2180},{"t":955,"v":2080},{"t":958,"v":2130},{"t":961,"v":2060},{"t":964,"v":2030},{"t":967,"v":2400},{"t":970,"v":2820},{"t":972,"v":3290},{"t":974,"v":3000},{"t":976,"v":2780},{"t":979,"v":2700},{"t":982,"v":2650},{"t":985,"v":2640},{"t":988,"v":2600},{"t":991,"v":2620},{"t":994,"v":2560},{"t":997,"v":2580},{"t":1000,"v":2540},{"t":1003,"v":2500},{"t":1006,"v":2520},{"t":1009,"v":2450},{"t":1012,"v":2420},{"t":1015,"v":2380},{"t":1018,"v":2350},{"t":1021,"v":2320},{"t":1024,"v":2280},{"t":1027,"v":2260},{"t":1030,"v":2220},{"t":1033,"v":2200},{"t":1036,"v":2150},{"t":1039,"v":2100},{"t":1042,"v":2060},{"t":1045,"v":2020},{"t":1048,"v":1980},{"t":1051,"v":1950},{"t":1054,"v":1900},{"t":1055,"v":50},{"t":1056,"v":1800},{"t":1059,"v":1850},{"t":1062,"v":1760},{"t":1065,"v":1700},{"t":1068,"v":1560},{"t":1071,"v":1500},{"t":1074,"v":1560},{"t":1077,"v":1420},{"t":1080,"v":1380},{"t":1083,"v":1400},{"t":1086,"v":1330},{"t":1089,"v":1300},{"t":1092,"v":1270},{"t":1095,"v":1240},{"t":1098,"v":1150},{"t":1101,"v":1100},{"t":1104,"v":1060},{"t":1107,"v":1000},{"t":1110,"v":970},{"t":1113,"v":940},{"t":1116,"v":900},{"t":1119,"v":860},{"t":1122,"v":830},{"t":1125,"v":800},{"t":1128,"v":760},{"t":1131,"v":700},{"t":1134,"v":660},{"t":1137,"v":600},{"t":1140,"v":540},{"t":1143,"v":480},{"t":1146,"v":420},{"t":1149,"v":360},{"t":1152,"v":300},{"t":1155,"v":260},{"t":1158,"v":180},{"t":1161,"v":50},{"t":1164,"v":-20},{"t":1168,"v":-10},{"t":1172,"v":-30},{"t":1176,"v":-20},{"t":1180,"v":-40},{"t":1184,"v":-30},{"t":1188,"v":-80},{"t":1192,"v":-110},{"t":1196,"v":-110},{"t":1200,"v":-120},{"t":1203,"v":-140},{"t":1205,"v":-330},{"t":1207,"v":-250},{"t":1209,"v":-120},{"t":1212,"v":50},{"t":1214,"v":120},{"t":1217,"v":170},{"t":1219,"v":100},{"t":1221,"v":200},{"t":1223,"v":120},{"t":1225,"v":160},{"t":1227,"v":80},{"t":1229,"v":150},{"t":1231,"v":100},{"t":1233,"v":20},{"t":1236,"v":-40},{"t":1239,"v":50},{"t":1242,"v":-30},{"t":1245,"v":30},{"t":1248,"v":-60},{"t":1251,"v":40},{"t":1254,"v":-20},{"t":1257,"v":60},{"t":1260,"v":-50},{"t":1263,"v":20},{"t":1266,"v":-40},{"t":1269,"v":50},{"t":1272,"v":-30},{"t":1275,"v":30},{"t":1278,"v":-50},{"t":1281,"v":20},{"t":1284,"v":90},{"t":1287,"v":60},{"t":1289,"v":150},{"t":1291,"v":70},{"t":1294,"v":90},{"t":1297,"v":80},{"t":1300,"v":100},{"t":1304,"v":75},{"t":1308,"v":95},{"t":1312,"v":80},{"t":1316,"v":90},{"t":1320,"v":70},{"t":1324,"v":95},{"t":1328,"v":85},{"t":1332,"v":90},{"t":1336,"v":75},{"t":1340,"v":100},{"t":1344,"v":80},{"t":1348,"v":95},{"t":1352,"v":90},{"t":1354,"v":80},{"t":1355,"v":-370},{"t":1357,"v":-800},{"t":1360,"v":-830},{"t":1363,"v":-790},{"t":1366,"v":-850},{"t":1369,"v":-800},{"t":1372,"v":-880},{"t":1375,"v":-780},{"t":1378,"v":-830},{"t":1380,"v":-600},{"t":1381,"v":-260},{"t":1384,"v":-250},{"t":1388,"v":-260},{"t":1392,"v":-240},{"t":1394,"v":-500},{"t":1397,"v":-520},{"t":1400,"v":-500},{"t":1402,"v":-510},{"t":1404,"v":-300},{"t":1408,"v":-320},{"t":1412,"v":-290},{"t":1416,"v":-330},{"t":1420,"v":-300},{"t":1424,"v":-310},{"t":1428,"v":-320},{"t":1432,"v":-300},{"t":1436,"v":-330},{"t":1440,"v":-310}]
},
"layer": [
 {"data": {"name": "pv"}, "mark": {"type": "line", "strokeWidth": 1.6, "clip": true},
  "encoding": {
   "x": {"field": "t", "type": "quantitative", "scale": {"domain": [-15.4, 1455.6], "nice": false, "zero": false},
     "axis": {"values": [0,200,400,600,800,1000,1200,1400], "format": "d", "labelFontSize": 53, "labelPadding": 1, "title": "Time (min)", "titleFontSize": 62, "titlePadding": 2}},
   "y": {"field": "v", "type": "quantitative", "scale": {"domain": [-2758, 4268], "nice": false, "zero": false},
     "axis": {"values": [-2000,-1000,0,1000,2000,3000,4000], "format": "d", "labelExpr": "(datum.value == 3000 || datum.value == 1000 || datum.value == 0 || datum.value == -2000) ? datum.label : ''", "labelAngle": -90, "labelAlign": "center", "labelBaseline": "alphabetic", "labelFontSize": 53, "labelPadding": 23, "labelOverlap": false, "title": "Power (W)", "titleFontSize": 60, "titleBaseline": "alphabetic", "titlePadding": 30}},
   "color": {"datum": "P_pv", "type": "nominal",
     "scale": {"domain": ["P_pv","P_load","P_bat","P_grid"], "range": ["#FF0000","#00FF00","#FFD700","#000000"]},
     "legend": {"title": null, "orient": "top-left", "offset": 0, "padding": 36, "fillColor": "#ffffff", "strokeColor": "#000000", "cornerRadius": 0,
       "symbolType": "M-1.3333,0L1.3333,0", "symbolSize": 14400, "symbolStrokeWidth": 4, "symbolOffset": 51, "labelOffset": 93, "labelFontSize": 84, "labelFont": "Liberation Sans", "labelColor": "#000000", "labelLimit": 800, "rowPadding": 0,
       "encode": {"legend": {"update": {"stroke": {"value": "#000000"}, "strokeWidth": {"value": 1.5}, "fill": {"value": "#ffffff"}, "height": {"value": 505}}}, "symbols": {"update": {"strokeWidth": {"value": 4}}}}}}
  }},
 {"data": {"name": "load"}, "mark": {"type": "line", "strokeWidth": 1.6, "clip": true},
  "encoding": {"x": {"field": "t", "type": "quantitative"}, "y": {"field": "v", "type": "quantitative"}, "color": {"datum": "P_load", "type": "nominal"}}},
 {"data": {"name": "bat"}, "mark": {"type": "line", "strokeWidth": 1.6, "clip": true},
  "encoding": {"x": {"field": "t", "type": "quantitative"}, "y": {"field": "v", "type": "quantitative"}, "color": {"datum": "P_bat", "type": "nominal"}}},
 {"data": {"name": "grid"}, "mark": {"type": "line", "strokeWidth": 1.6, "clip": true},
  "encoding": {"x": {"field": "t", "type": "quantitative"}, "y": {"field": "v", "type": "quantitative"}, "color": {"datum": "P_grid", "type": "nominal"}}}
]
}
